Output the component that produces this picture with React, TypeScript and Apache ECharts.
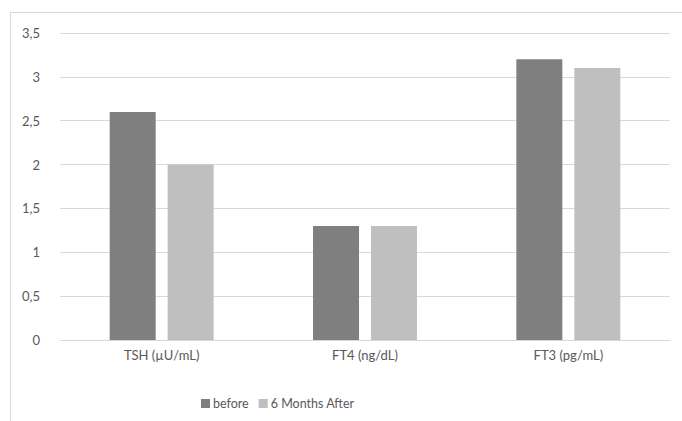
import React, { useEffect, useRef } from "react";
import * as echarts from "echarts";

const categories = ["TSH (µU/mL)", "FT4 (ng/dL)", "FT3 (pg/mL)"];
const beforeValues = [2.6, 1.3, 3.2];
const afterValues = [2.0, 1.3, 3.1];
const seriesNames = ["before", "6 Months After"];

export default function App() {
  const ref = useRef<HTMLDivElement>(null);
  useEffect(() => {
    const chart = echarts.init(ref.current!, null, { renderer: "svg" });
    const font = "Lato, 'Open Sans', sans-serif";
    chart.setOption({
      animation: false,
      backgroundColor: "#ffffff",
      textStyle: { fontFamily: font },
      graphic: [
        {
          type: "rect",
          shape: { x: 10.5, y: 12.5, width: 700, height: 450 },
          style: { fill: "none", stroke: "#d9d9d9", lineWidth: 1 },
          silent: true,
        },
      ],
      grid: { left: 60, right: 12, top: 33, bottom: 81 },
      legend: {
        data: seriesNames,
        left: 196,
        top: 392,
        itemWidth: 9,
        itemHeight: 9,
        itemGap: 10,
        icon: "rect",
        textStyle: { color: "#595959", fontSize: 12.5, fontFamily: font, padding: [0, 0, 0, -2] },
      },
      xAxis: {
        type: "category",
        data: categories,
        axisLine: { lineStyle: { color: "#d9d9d9" } },
        axisTick: { show: false },
        axisLabel: { color: "#595959", fontSize: 13, margin: 8, fontFamily: font },
      },
      yAxis: {
        type: "value",
        min: 0,
        max: 3.5,
        interval: 0.5,
        axisLine: { show: false },
        axisTick: { show: false },
        splitLine: { lineStyle: { color: "#d9d9d9" } },
        axisLabel: {
          color: "#595959",
          fontSize: 13,
          margin: 20,
          fontFamily: font,
          formatter: (v: number) => String(v).replace(".", ","),
        },
      },
      series: [
        {
          name: seriesNames[0],
          type: "bar",
          data: beforeValues,
          barWidth: 46,
          barGap: "26%",
          itemStyle: { color: "#7f7f7f" },
        },
        {
          name: seriesNames[1],
          type: "bar",
          data: afterValues,
          barWidth: 46,
          itemStyle: { color: "#bfbfbf" },
        },
      ],
    });
    return () => chart.dispose();
  }, []);
  return (
    <div
      ref={ref}
      style={{ position: "absolute", left: 0, top: 0, width: 682, height: 421 }}
    />
  );
}
